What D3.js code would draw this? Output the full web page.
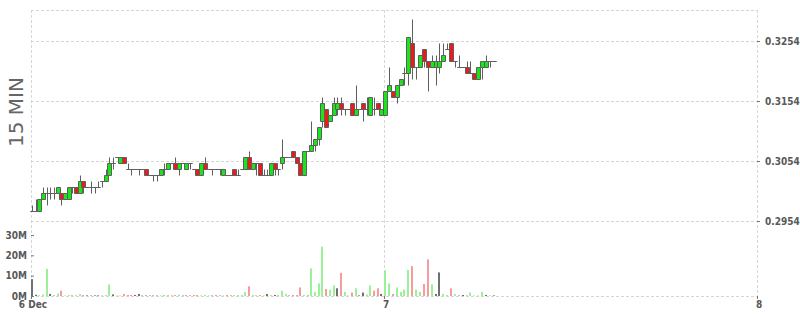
<!DOCTYPE html>
<html>
<head>
<meta charset="utf-8">
<script src="https://cdn.jsdelivr.net/npm/d3@7"></script>
<style>
  body { margin: 0; background: #fff; }
  svg { display: block; }
</style>
</head>
<body>
<div id="chart"></div>
<script>
// 15 minute candles, 6 Dec 00:00 onwards
const open = [
  0.297, 0.297, 0.297, 0.299, 0.300, 0.300, 0.300, 0.300, 0.300, 0.299,
  0.299, 0.301, 0.301, 0.300, 0.302, 0.301, 0.301, 0.301, 0.301, 0.302,
  0.302, 0.303, 0.305, 0.306, 0.305, 0.306, 0.304, 0.304, 0.304, 0.304,
  0.304, 0.304, 0.303, 0.303, 0.303, 0.303, 0.304, 0.304, 0.305, 0.305,
  0.304, 0.305, 0.304, 0.305, 0.304, 0.304, 0.303, 0.305, 0.304, 0.304,
  0.304, 0.304, 0.303, 0.303, 0.303, 0.304, 0.303, 0.304, 0.304, 0.306,
  0.304, 0.305, 0.305, 0.303, 0.303, 0.303, 0.305, 0.304, 0.305, 0.306,
  0.306, 0.307, 0.306, 0.305, 0.303, 0.307, 0.307, 0.308, 0.309, 0.312,
  0.314, 0.312, 0.313, 0.314, 0.315, 0.314, 0.314, 0.315, 0.313, 0.314,
  0.315, 0.314, 0.313, 0.314, 0.315, 0.313, 0.313, 0.317, 0.317, 0.316,
  0.318, 0.320, 0.320, 0.325, 0.321, 0.321, 0.324, 0.322, 0.321, 0.321,
  0.321, 0.322, 0.324, 0.325, 0.322, 0.321, 0.321, 0.321, 0.320, 0.320,
  0.319, 0.321, 0.321, 0.322, 0.322
];
const high = [
  0.298, 0.299, 0.299, 0.301, 0.301, 0.301, 0.301, 0.301, 0.300, 0.300,
  0.301, 0.301, 0.301, 0.303, 0.302, 0.301, 0.302, 0.301, 0.302, 0.302,
  0.304, 0.306, 0.306, 0.306, 0.306, 0.306, 0.305, 0.304, 0.304, 0.304,
  0.304, 0.304, 0.303, 0.303, 0.303, 0.304, 0.305, 0.305, 0.305, 0.306,
  0.305, 0.305, 0.305, 0.305, 0.304, 0.304, 0.305, 0.306, 0.304, 0.304,
  0.304, 0.304, 0.304, 0.303, 0.303, 0.304, 0.304, 0.304, 0.306, 0.307,
  0.305, 0.305, 0.305, 0.304, 0.304, 0.305, 0.305, 0.304, 0.309, 0.306,
  0.306, 0.307, 0.306, 0.305, 0.307, 0.307, 0.312, 0.309, 0.311, 0.316,
  0.314, 0.313, 0.316, 0.316, 0.316, 0.314, 0.314, 0.315, 0.318, 0.314,
  0.315, 0.316, 0.316, 0.316, 0.315, 0.314, 0.317, 0.321, 0.317, 0.318,
  0.319, 0.321, 0.326, 0.329, 0.321, 0.323, 0.324, 0.322, 0.323, 0.323,
  0.325, 0.325, 0.325, 0.325, 0.322, 0.323, 0.321, 0.322, 0.322, 0.320,
  0.321, 0.322, 0.323, 0.322, 0.322
];
const low = [
  0.297, 0.297, 0.297, 0.299, 0.298, 0.299, 0.299, 0.300, 0.298, 0.299,
  0.299, 0.300, 0.300, 0.300, 0.300, 0.301, 0.300, 0.300, 0.301, 0.301,
  0.302, 0.303, 0.304, 0.306, 0.305, 0.305, 0.304, 0.303, 0.304, 0.303,
  0.304, 0.303, 0.303, 0.302, 0.302, 0.303, 0.303, 0.304, 0.305, 0.304,
  0.303, 0.305, 0.304, 0.304, 0.304, 0.303, 0.303, 0.304, 0.304, 0.303,
  0.304, 0.303, 0.303, 0.303, 0.303, 0.303, 0.303, 0.304, 0.304, 0.304,
  0.304, 0.303, 0.303, 0.303, 0.303, 0.303, 0.303, 0.303, 0.304, 0.306,
  0.306, 0.306, 0.305, 0.303, 0.303, 0.307, 0.307, 0.307, 0.308, 0.311,
  0.311, 0.312, 0.313, 0.313, 0.313, 0.313, 0.314, 0.313, 0.313, 0.314,
  0.312, 0.313, 0.313, 0.313, 0.314, 0.313, 0.313, 0.317, 0.316, 0.315,
  0.318, 0.318, 0.318, 0.319, 0.319, 0.321, 0.321, 0.317, 0.321, 0.318,
  0.320, 0.322, 0.324, 0.322, 0.321, 0.321, 0.321, 0.320, 0.320, 0.319,
  0.319, 0.319, 0.321, 0.321, 0.322
];
const close = [
  0.297, 0.297, 0.299, 0.300, 0.300, 0.300, 0.300, 0.301, 0.299, 0.300,
  0.301, 0.301, 0.300, 0.302, 0.301, 0.301, 0.301, 0.301, 0.301, 0.302,
  0.303, 0.305, 0.305, 0.306, 0.306, 0.305, 0.304, 0.304, 0.304, 0.304,
  0.304, 0.303, 0.303, 0.303, 0.303, 0.304, 0.304, 0.305, 0.305, 0.304,
  0.305, 0.305, 0.305, 0.305, 0.304, 0.303, 0.305, 0.304, 0.304, 0.304,
  0.304, 0.304, 0.304, 0.303, 0.303, 0.303, 0.303, 0.304, 0.306, 0.304,
  0.305, 0.305, 0.303, 0.303, 0.303, 0.305, 0.304, 0.304, 0.306, 0.306,
  0.306, 0.306, 0.305, 0.303, 0.307, 0.307, 0.308, 0.309, 0.311, 0.315,
  0.311, 0.313, 0.315, 0.315, 0.314, 0.314, 0.314, 0.313, 0.314, 0.314,
  0.314, 0.314, 0.316, 0.314, 0.314, 0.314, 0.317, 0.318, 0.316, 0.318,
  0.319, 0.320, 0.326, 0.321, 0.321, 0.323, 0.322, 0.321, 0.322, 0.322,
  0.322, 0.323, 0.324, 0.322, 0.322, 0.321, 0.321, 0.320, 0.320, 0.319,
  0.321, 0.322, 0.322, 0.322, 0.322
];
// volume in millions
const volume = [
  8.3, 0.6, 0.4, 0.7, 13.4, 1.0, 0.2, 1.2, 2.6, 0.3,
  0.5, 0.2, 0.3, 1.0, 0.5, 0.3, 0.2, 0.3, 0.3, 0.3,
  0.5, 5.7, 0.8, 0.3, 0.3, 1.0, 0.5, 0.5, 0.5, 1.0,
  0.2, 0.5, 0.2, 0.2, 0.2, 0.3, 0.2, 0.5, 0.3, 0.5,
  0.7, 0.2, 0.5, 0.2, 0.5, 0.5, 0.3, 0.5, 0.3, 0.2,
  0.5, 0.2, 0.3, 0.5, 0.2, 0.5, 0.5, 0.5, 2.0, 4.8,
  0.5, 0.5, 0.5, 0.3, 1.0, 0.5, 0.5, 0.5, 2.6, 1.0,
  0.2, 0.5, 0.5, 4.2, 0.5, 0.2, 13.6, 2.0, 6.2, 24.3,
  3.4, 3.1, 5.2, 3.8, 11.4, 2.0, 0.3, 1.7, 3.8, 0.3,
  1.7, 0.8, 5.2, 2.6, 3.8, 1.0, 12.6, 6.2, 1.0, 4.2,
  2.0, 3.1, 12.9, 14.7, 3.1, 2.0, 5.9, 18.0, 5.7, 1.0,
  11.6, 1.0, 0.5, 3.8, 1.0, 0.2, 0.5, 0.3, 1.7, 0.3,
  0.3, 2.0, 0.5, 0.3, 0.3
];
// u = up, d = down, n = unchanged (volume bar colour)
const volumeTrend = [
  'nnuuunnudu', 'undudnnnnu', 'uunuudddnn', 'ndnnnunudd', 'undndduuun',
  'dnudnuuuud', 'uudununuuu', 'ndddunuuuu', 'duunduudun', 'nuuddnuudu',
  'uuuduuddun', 'nuudunnduu', 'uunun'
].join('').split('');

const priceTicks = [0.2954, 0.3054, 0.3154, 0.3254];
const volumeTicks = [0, 10, 20, 30];
const dayTicks = [new Date(Date.UTC(2017, 11, 6)), new Date(Date.UTC(2017, 11, 7)), new Date(Date.UTC(2017, 11, 8))];
const dayLabels = ['6 Dec', '7', '8'];
const title = '15 MIN';

const width = 800, height = 315;
const plotLeft = 31, plotRight = 757, plotTop = 10, plotBottom = 296;
const step = 15 * 60 * 1000;
const times = open.map((d, i) => new Date(dayTicks[0].getTime() + i * step));

const svg = d3.select('#chart').append('svg')
    .attr('width', width)
    .attr('height', height);

const x = d3.scaleUtc().domain(dayTicks).range([plotLeft, 384, plotRight]);
const y = d3.scaleLinear().domain([0.2954, 0.3254]).range([221, 41]);
const v = d3.scaleLinear().domain([0, 30]).range([plotBottom, 235]);

const labelFont = '"DejaVu Sans Condensed", "DejaVu Sans", sans-serif';

// grid
const grid = svg.append('g')
    .attr('stroke', '#d6d6d6')
    .attr('stroke-dasharray', '3,2')
    .attr('shape-rendering', 'crispEdges');
grid.selectAll('line.h')
    .data([plotTop].concat(priceTicks.map(d => Math.round(y(d))), [plotBottom]))
    .join('line')
    .attr('class', 'h')
    .attr('x1', plotLeft).attr('x2', plotRight)
    .attr('y1', d => d).attr('y2', d => d);
grid.selectAll('line.v')
    .data(dayTicks)
    .join('line')
    .attr('class', 'v')
    .attr('x1', d => Math.round(x(d))).attr('x2', d => Math.round(x(d)))
    .attr('y1', plotTop).attr('y2', plotBottom);

// volume
const cx = i => Math.round(x(times[i]) + 1);
const volColor = { u: '#9cf09c', d: '#f79c9c', n: '#707070' };
svg.append('g')
    .selectAll('rect')
    .data(volume)
    .join('rect')
    .attr('x', (d, i) => cx(i) - 1)
    .attr('width', 2)
    .attr('y', d => v(d))
    .attr('height', d => plotBottom - v(d))
    .attr('fill', (d, i) => volColor[volumeTrend[i]]);

// candles
const idx = d3.range(open.length);
const candles = svg.append('g')
    .attr('stroke', '#5f5f5f')
    .attr('stroke-width', 1);
candles.selectAll('line')
    .data(idx.filter(i => high[i] > low[i]))
    .join('line')
    .attr('x1', i => cx(i) + 0.5).attr('x2', i => cx(i) + 0.5)
    .attr('y1', i => Math.round(y(high[i])) + 0.5)
    .attr('y2', i => Math.round(y(low[i])) + 0.5);
candles.selectAll('path')
    .data(idx)
    .join('path')
    .attr('d', i => {
        const x0 = cx(i) - 1.5, x1 = cx(i) + 2.5;
        const y0 = Math.round(y(Math.max(open[i], close[i]))) + 0.5;
        const y1 = Math.round(y(Math.min(open[i], close[i]))) + 0.5;
        return `M${x0},${y0}H${x1}V${y1}H${x0}Z`;
    })
    .attr('fill', i => close[i] > open[i] ? '#17e617' : close[i] < open[i] ? '#ec1a1a' : 'none');

// price axis (right)
svg.append('g')
    .attr('transform', `translate(${plotRight},0)`)
    .call(d3.axisRight(y).tickValues(priceTicks).tickSize(3).tickPadding(5).tickFormat(d3.format('.4f')))
    .call(g => g.select('.domain').remove())
    .call(g => g.selectAll('line').attr('stroke', '#777'))
    .call(g => g.selectAll('text')
        .attr('fill', '#585858')
        .style('font', `bold 10px ${labelFont}`));

// volume axis (left)
svg.append('g')
    .attr('transform', `translate(${plotLeft},0)`)
    .call(d3.axisLeft(v).tickValues(volumeTicks).tickSizeInner(-3).tickSizeOuter(0).tickPadding(4).tickFormat(d => d + 'M'))
    .call(g => g.select('.domain').remove())
    .call(g => g.selectAll('line').attr('stroke', '#777'))
    .call(g => g.selectAll('text')
        .attr('fill', '#585858')
        .style('font', `bold 10px ${labelFont}`));

// time axis
svg.append('g')
    .attr('transform', `translate(0,${plotBottom})`)
    .call(d3.axisBottom(x).tickValues(dayTicks).tickSize(3).tickPadding(2).tickFormat((d, i) => dayLabels[i]))
    .call(g => g.select('.domain').remove())
    .call(g => g.selectAll('line').attr('stroke', '#777'))
    .call(g => g.selectAll('text')
        .attr('dx', 1.5)
        .attr('fill', '#585858')
        .style('font', `bold 10px ${labelFont}`));

// title
svg.append('text')
    .attr('transform', 'translate(23,112) rotate(-90)')
    .attr('text-anchor', 'middle')
    .attr('fill', '#666')
    .style('font', '20px "DejaVu Sans", sans-serif')
    .text(title);
</script>
</body>
</html>
